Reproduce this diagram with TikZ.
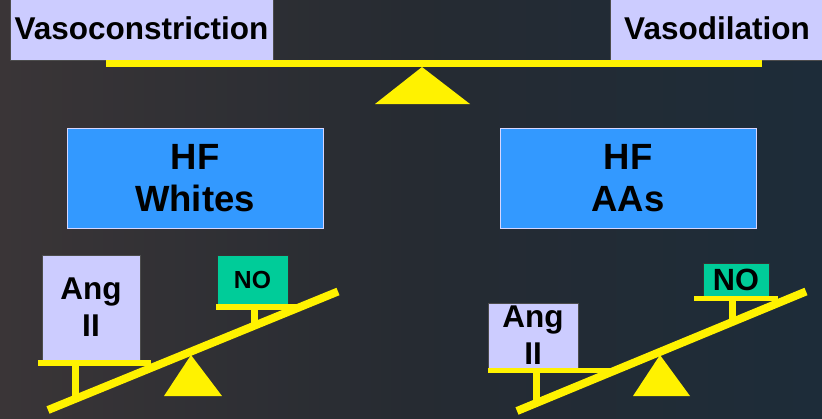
\documentclass[tikz,border=0pt]{standalone}
\usepackage{fontspec}
\setmainfont{Liberation Sans}
\usetikzlibrary{calc}
\definecolor{lav}{HTML}{CCCCFF}
\definecolor{hfblue}{HTML}{3399FF}
\definecolor{nogreen}{HTML}{00CC99}
\definecolor{bgleft}{HTML}{3A3537}
\definecolor{bgmid}{HTML}{262B32}
\definecolor{bgright}{HTML}{1D2C39}
\tikzset{%
        x = 1pt,
        y = -1pt,
        inner sep = 0pt
}
\tikzstyle{lbox}=[
    draw = black!70,
    fill = lav,
    line width = 0.8pt,
    align = center,
    font = \bfseries\fontsize{31.5}{37}\selectfont
]
\tikzstyle{hfbox}=[
    draw = lav!80!white,
    fill = hfblue,
    line width = 1pt,
    align = center,
    minimum width = 256,
    minimum height = 100,
    font = \bfseries\fontsize{36.5}{42.4}\selectfont
]
\tikzstyle{nobox}=[
    draw = black!80,
    fill = nogreen,
    line width = 0.8pt,
    font = \bfseries
]
\tikzstyle{beam}=[
    draw = yellow,
    line width = 8
]
\tikzstyle{shelf}=[
    draw = yellow,
    line width = 6
]
\tikzstyle{pivot}=[
    fill = yellow
]

\begin{document}
\begin{tikzpicture}
        \useasboundingbox (0,0) rectangle (822,418);
        \shade[left color=bgleft, right color=bgright, middle color=bgmid] (0,0) rectangle (822,418);
        % top balance
        \node[lbox, minimum width=263, minimum height=64] (vc) at (141.5,28.7) {Vasoconstriction};
        \node[lbox, minimum width=214, minimum height=64] (vd) at (717,28.7) {Vasodilation};
        \coordinate (t1) at (106,63.5);
        \coordinate (t2) at (762,63.5);
        \draw[beam, line width=7] (t1) -- (t2);
        \fill[pivot] (422,67) -- (375,104) -- (470,104) -- cycle;
        % headings
        \node[hfbox] (hfw) at (195,178) {HF\\Whites};
        \node[hfbox] (hfa) at (628,178) {HF\\AAs};
        % left balance
        \node[lbox, minimum width=98, minimum height=105] (ang1) at (91,307.5) {Ang\\II};
        \node[nobox, minimum width=71, minimum height=49, font=\bfseries\fontsize{24.7}{28}\selectfont] (no1) at (252.5,279.5) {NO};
        \coordinate (l1) at (48,410);
        \coordinate (l2) at (338,291.5);
        \draw[shelf, line width=7] (75.5,365) -- (75.5,398);
        \draw[shelf, line width=7] (254,309) -- (254,325);
        \draw[shelf] (38,363) -- (151,363);
        \draw[shelf] (216,307) -- (297,307);
        \draw[beam] (l1) -- (l2);
        \fill[pivot] (191,355) -- (164,396) -- (222,396) -- cycle;
        % right balance
        \node[lbox, minimum width=90, minimum height=65] (ang2) at (533,335.5) {Ang\\II};
        \node[nobox, minimum width=66, minimum height=33, font=\bfseries\fontsize{30.7}{34}\selectfont] (no2) at (736,279.5) {NO};
        \coordinate (r1) at (517,411);
        \coordinate (r2) at (806,291.5);
        \draw[shelf, line width=7] (536,372) -- (536,400);
        \draw[shelf, line width=7] (732,300) -- (732,320);
        \draw[shelf, line width=5.5] (488,370.5) -- (620,370.5);
        \draw[shelf, line width=5.5] (694,298.5) -- (778,298.5);
        \draw[beam] (r1) -- (r2);
        \fill[pivot] (660,355) -- (633,396) -- (690,396) -- cycle;
\end{tikzpicture}
\end{document}
